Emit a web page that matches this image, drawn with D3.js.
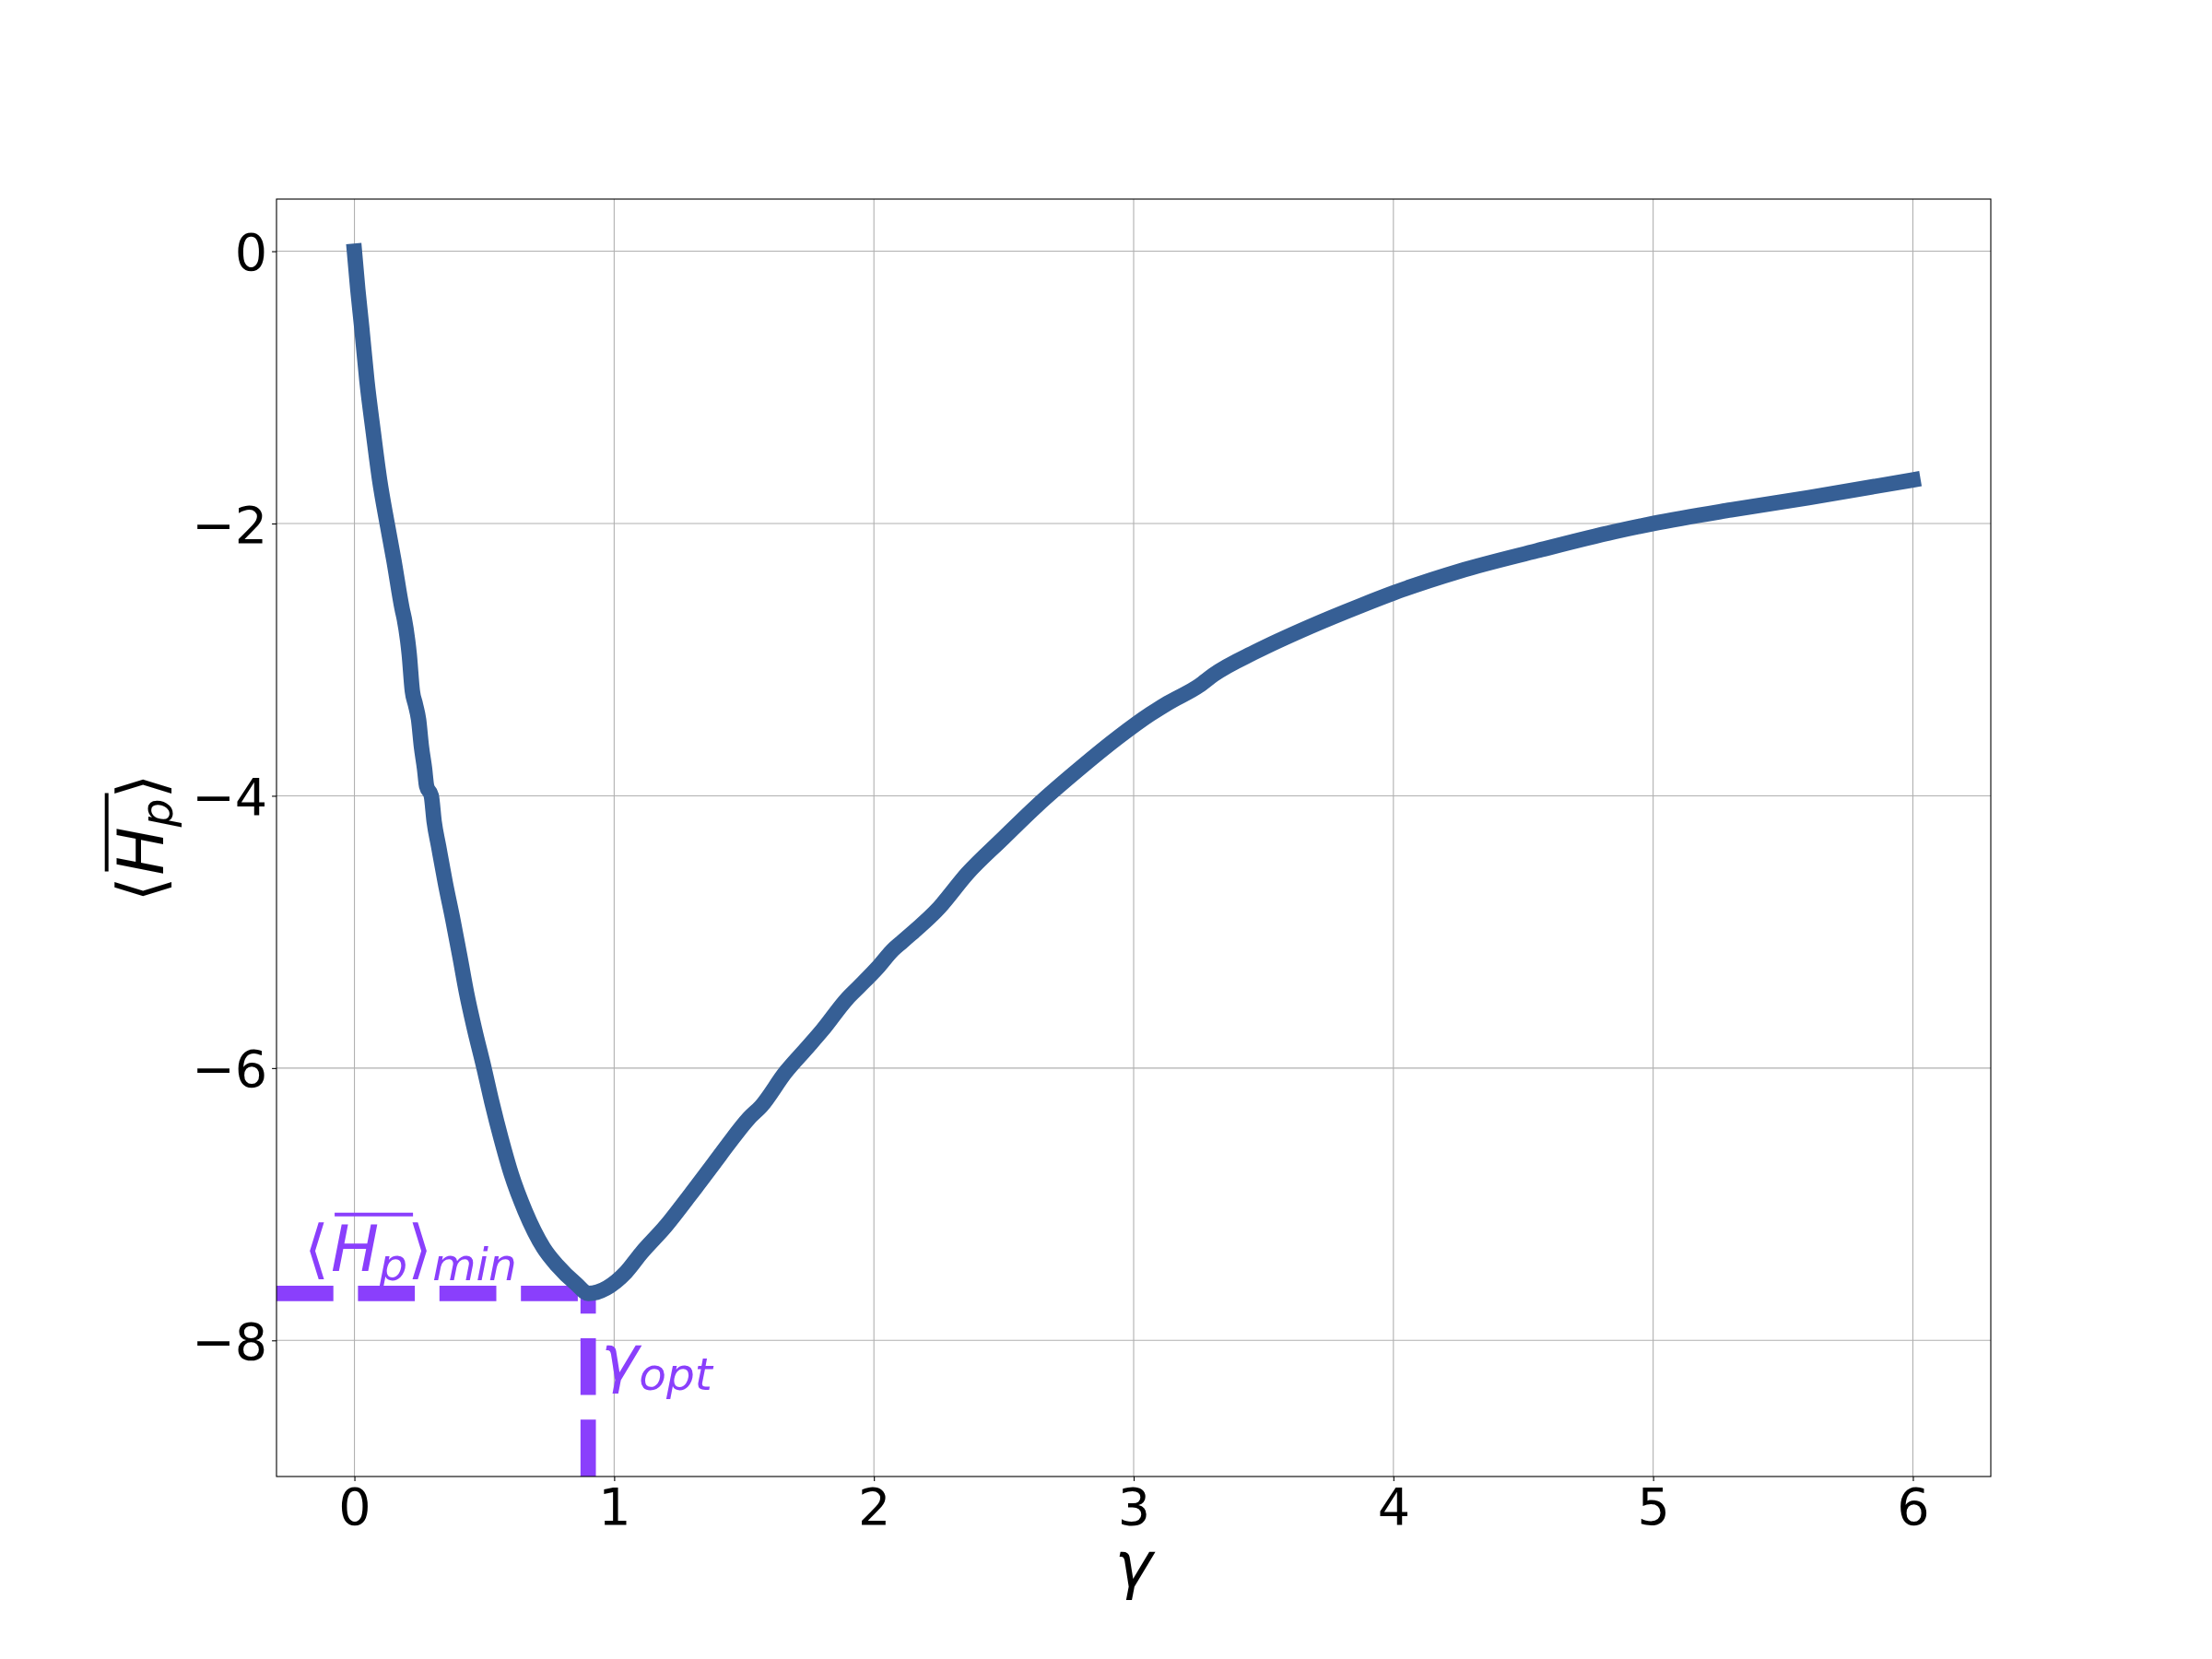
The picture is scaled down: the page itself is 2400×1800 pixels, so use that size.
<!DOCTYPE html>
<html>
<head>
<meta charset="utf-8">
<script src="https://cdn.jsdelivr.net/npm/d3@7"></script>
<style>
  body { margin: 0; background: #fff; }
  text { font-family: "DejaVu Sans", sans-serif; }
</style>
</head>
<body>
<div id="main"></div>
<script>
// values
const gamma = [0, 0.013, 0.028, 0.048, 0.073, 0.097, 0.126, 0.152, 0.184, 0.192, 0.205, 0.211,
  0.223, 0.235, 0.247, 0.258, 0.270, 0.278, 0.296, 0.307, 0.324, 0.350,
  0.379, 0.406, 0.432, 0.462, 0.499, 0.529, 0.565, 0.604, 0.657, 0.728,
  0.781, 0.856, 0.900, 1.045, 1.104, 1.199, 1.293, 1.388, 1.435, 1.518,
  1.566, 1.660, 1.743, 1.802, 1.897, 1.944, 2.015, 2.074, 2.110, 2.252,
  2.360, 2.493, 2.629, 2.792, 2.941, 3.064, 3.131, 3.253, 3.308, 3.471,
  3.675, 3.878, 4.000, 4.254, 4.553, 4.851, 5.000, 5.299, 5.598, 6.000];
const energy = [0, -0.28, -0.557, -0.95, -1.334, -1.68, -2.00, -2.27, -2.63, -2.70, -2.86, -2.96,
  -3.23, -3.33, -3.44, -3.64, -3.80, -3.93, -4.00, -4.19, -4.37, -4.64,
  -4.91, -5.18, -5.45, -5.71, -6.00, -6.25, -6.52, -6.78, -7.05, -7.32,
  -7.45, -7.59, -7.655, -7.50, -7.36, -7.16, -6.93, -6.69, -6.57, -6.37,
  -6.28, -6.03, -5.85, -5.72, -5.49, -5.40, -5.26, -5.13, -5.07, -4.82,
  -4.57, -4.32, -4.07, -3.80, -3.57, -3.40, -3.32, -3.19, -3.11, -2.94,
  -2.76, -2.60, -2.51, -2.35, -2.20, -2.06, -2.00, -1.90, -1.81, -1.68];
const xTicks = [0, 1, 2, 3, 4, 5, 6];
const yTicks = [0, -2, -4, -6, -8];
const gammaOpt = 0.9;
const energyMin = -7.655;

//size and plot box
const width = 2400;
const height = 1800;
const boxLeft = 300, boxRight = 2160, boxTop = 216, boxBottom = 1602;

const lineColor = "#365f95";
const purple = "#8a3ffc";
const lw = 16.67;
const tickFont = 55.6;
const labelFont = 69.4;

const svg = d3.select('#main')
  .append('svg')
  .attr('width', width)
  .attr('height', height)
  .style('background', '#fff');

const x = d3.scaleLinear().domain([-0.3, 6.3]).range([boxLeft, boxRight]);
const y = d3.scaleLinear().domain([-9, 0.383]).range([boxBottom, boxTop]);

//grid
svg.append('g').selectAll('line').data(xTicks).enter().append('line')
  .attr('x1', d => x(d)).attr('x2', d => x(d))
  .attr('y1', boxTop).attr('y2', boxBottom)
  .attr('stroke', '#b0b0b0').attr('stroke-width', 1.1);
svg.append('g').selectAll('line').data(yTicks).enter().append('line')
  .attr('y1', d => y(d)).attr('y2', d => y(d))
  .attr('x1', boxLeft).attr('x2', boxRight)
  .attr('stroke', '#b0b0b0').attr('stroke-width', 1.1);

//dashed guides to the minimum
svg.append('line')
  .attr('x1', x(-0.3)).attr('x2', x(gammaOpt))
  .attr('y1', y(energyMin)).attr('y2', y(energyMin))
  .attr('stroke', purple).attr('stroke-width', lw)
  .attr('stroke-dasharray', '61.7,26.7');
svg.append('line')
  .attr('x1', x(gammaOpt)).attr('x2', x(gammaOpt))
  .attr('y1', y(-9)).attr('y2', y(energyMin))
  .attr('stroke', purple).attr('stroke-width', lw)
  .attr('stroke-dasharray', '61.7,26.7');

//the curve
const line = d3.line().x(d => x(d[0])).y(d => y(d[1])).curve(d3.curveMonotoneX);
svg.append('path')
  .datum(gamma.map((g, i) => [g, energy[i]]))
  .attr('d', line)
  .attr('fill', 'none')
  .attr('stroke', lineColor)
  .attr('stroke-width', lw)
  .attr('stroke-linejoin', 'round')
  .attr('stroke-linecap', 'square');

//axes
const xAxis = d3.axisBottom(x).tickValues(xTicks).tickSize(4.9).tickPadding(4.9).tickFormat(d3.format('d'));
const yAxis = d3.axisLeft(y).tickValues(yTicks).tickSize(4.9).tickPadding(4.9).tickFormat(d3.format('d'));

const gx = svg.append('g').attr('transform', 'translate(0,' + boxBottom + ')').call(xAxis);
const gy = svg.append('g').attr('transform', 'translate(' + boxLeft + ',0)').call(yAxis);
[gx, gy].forEach(g => {
  g.select('.domain').remove();
  g.selectAll('.tick line').attr('stroke', '#000').attr('stroke-width', 1.1);
  g.selectAll('.tick text').attr('fill', '#000')
    .style('font-family', '"DejaVu Sans", sans-serif')
    .style('font-size', tickFont + 'px');
});
gx.selectAll('.tick text').attr('dy', '0.76em');
gy.selectAll('.tick text').attr('dy', '0.36em');

//spines
svg.append('rect')
  .attr('x', boxLeft).attr('y', boxTop)
  .attr('width', boxRight - boxLeft).attr('height', boxBottom - boxTop)
  .attr('fill', 'none').attr('stroke', '#000').attr('stroke-width', 1.1);

//helper to lay out a small math label piece by piece
function mathText(g, pieces, size, color) {
  let cx = 0;
  const boxes = [];
  pieces.forEach(p => {
    const fs = p.sub ? size * 0.7 : size;
    const t = g.append('text')
      .attr('x', cx)
      .attr('y', p.sub ? 9.5 : 0)
      .style('font-size', fs + 'px')
      .style('font-style', p.it ? 'italic' : 'normal')
      .attr('fill', color)
      .text(p.t);
    const w = t.node().getComputedTextLength();
    boxes.push([cx, cx + w]);
    cx += w + (p.gap || 0);
  });
  return { width: cx, boxes: boxes };
}

function hBar(g, pieces, size, color) {
  const m = mathText(g, pieces, size, color);
  g.append('line')
    .attr('x1', m.boxes[1][0] + 4).attr('x2', m.boxes[2][1] + 6)
    .attr('y1', -61.6).attr('y2', -61.6)
    .attr('stroke', color).attr('stroke-width', 4);
  return m;
}

const hPieces = [
  { t: '\u27E8', gap: 2 },
  { t: 'H', it: true, gap: 0 },
  { t: 'p', it: true, sub: true, gap: 0 },
  { t: '\u27E9', gap: 0 }
];

//y label
const yl = svg.append('g').attr('transform', 'translate(177.3,' + ((boxTop + boxBottom) / 2) + ') rotate(-90)');
const ylInner = yl.append('g');
const ym = hBar(ylInner, hPieces, labelFont, '#000');
ylInner.attr('transform', 'translate(' + (-ym.width / 2) + ',0)');

//x label
svg.append('text')
  .attr('x', (boxLeft + boxRight) / 2).attr('y', 1722)
  .attr('text-anchor', 'middle')
  .style('font-size', labelFont + 'px')
  .style('font-style', 'italic')
  .text('\u03B3');

//annotations
const a1 = svg.append('g').attr('transform', 'translate(330,' + (y(energyMin) - 24) + ')');
hBar(a1, hPieces.concat([{ t: 'min', it: true, sub: true }]), labelFont, purple);

const a2 = svg.append('g').attr('transform', 'translate(' + (x(gammaOpt) + 14) + ',' + (y(-8) + 44) + ')');
mathText(a2, [{ t: '\u03B3', it: true }, { t: 'opt', it: true, sub: true }], labelFont, purple);
</script>
</body>
</html>
